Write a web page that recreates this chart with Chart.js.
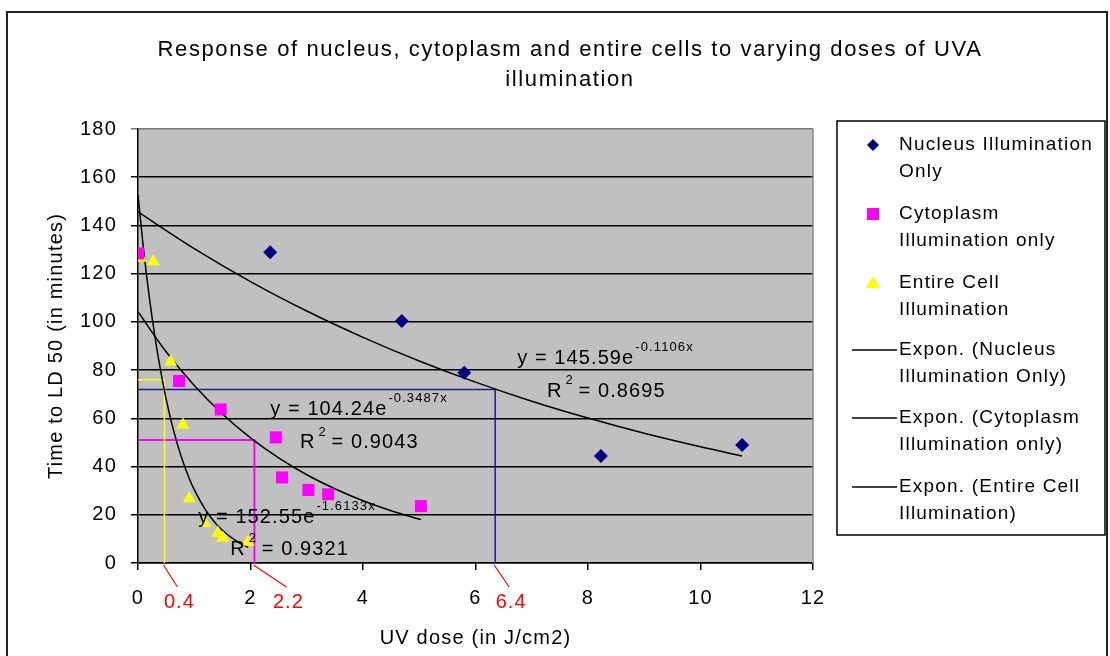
<!DOCTYPE html>
<html>
<head>
<meta charset="utf-8">
<script src="https://cdn.jsdelivr.net/npm/chart.js@4.4.1/dist/chart.umd.min.js"></script>
<style>
  html, body { margin: 0; padding: 0; background: #fff; }
  canvas { display: block; }
</style>
</head>
<body>
<canvas id="chart" width="1110" height="656"></canvas>
<script>
// measured points (x = UV dose J/cm2, y = time to LD 50 in minutes)
const nucleusX = [2.35, 4.69, 5.80, 8.23, 10.74];
const nucleusY = [128.9, 100.4, 78.9, 44.4, 48.9];
const cytoX = [0.0, 0.73, 1.47, 2.45, 2.56, 3.03, 3.38, 5.03];
const cytoY = [128.4, 75.5, 63.7, 52.1, 35.5, 30.3, 28.5, 23.6];
const cellX = [0.05, 0.27, 0.58, 0.80, 0.91, 1.19, 1.42, 1.51, 1.96];
const cellY = [126.5, 125.0, 83.5, 57.2, 26.8, 16.5, 12.4, 10.4, 8.7];

// exponential trendlines
const nucleusFitX = [0, 1, 2, 3, 4, 5, 6, 7, 8, 9, 10, 10.74];
const nucleusFitY = [145.6, 130.4, 116.7, 104.5, 93.6, 83.8, 75.0, 67.1, 60.1, 53.8, 48.2, 44.4];
const cytoFitX = [0, 0.5, 1, 1.5, 2, 2.5, 3, 3.5, 4, 4.5, 5.03];
const cytoFitY = [104.2, 87.6, 73.6, 61.8, 51.9, 43.6, 36.6, 30.8, 25.8, 21.7, 18.0];
const cellFitX = [0, 0.1, 0.2, 0.3, 0.4, 0.5, 0.6, 0.7, 0.8, 0.9, 1.0, 1.2, 1.4, 1.6, 1.8, 1.96];
const cellFitY = [152.6, 129.8, 110.5, 94.0, 80.0, 68.1, 57.9, 49.3, 42.0, 35.7, 30.4, 22.0, 15.9, 11.6, 8.4, 6.5];

// hand drawn read-off guides (dose at which LD 50 time is reached)
const guideCellX = [0, 0.47, 0.47];
const guideCellY = [76, 76, 0];
const guideCytoX = [0, 2.07, 2.07];
const guideCytoY = [51, 51, 0];
const guideNucX = [0, 6.35, 6.35];
const guideNucY = [72, 72, 0];
const guideLabels = ['0.4', '2.2', '6.4'];

const seriesNames = ['Nucleus Illumination Only', 'Cytoplasm Illumination only', 'Entire Cell Illumination'];
const fitEquations = ['y = 145.59e', 'y = 104.24e', 'y = 152.55e'];
const fitExponents = ['-0.1106x', '-0.3487x', '-1.6133x'];
const fitR2 = ['0.8695', '0.9043', '0.9321'];

const titleLines = ['Response of nucleus, cytoplasm and entire cells to varying doses of UVA', 'illumination'];

const pts = (xs, ys) => xs.map((x, i) => ({ x: x, y: ys[i] }));

const FONT = '"Liberation Sans", Arial, sans-serif';

const markerSet = (label, xs, ys, color, style, r) => ({
    label: label,
    data: pts(xs, ys),
    showLine: false,
    pointStyle: style,
    pointRadius: r,
    pointBackgroundColor: color,
    pointBorderColor: color,
    pointBorderWidth: 0,
});

const lineSet = (label, xs, ys, color, width, smooth) => ({
    label: label,
    data: pts(xs, ys),
    showLine: true,
    pointRadius: 0,
    borderColor: color,
    borderWidth: width,
    cubicInterpolationMode: smooth ? 'monotone' : 'default',
    tension: 0,
    fill: false,
});

const drawSup = (ctx, x, y, main, sup) => {
    ctx.font = '20px ' + FONT;
    ctx.textAlign = 'left';
    ctx.textBaseline = 'middle';
    ctx.fillText(main, x, y);
    const w = ctx.measureText(main).width;
    ctx.font = '13px ' + FONT;
    ctx.fillText(sup, x + w + 1, y - 11);
};

const drawR2 = (ctx, x, y, val) => {
    ctx.font = '20px ' + FONT;
    ctx.textAlign = 'left';
    ctx.textBaseline = 'middle';
    ctx.fillText('R', x, y);
    const w = ctx.measureText('R').width;
    ctx.font = '13px ' + FONT;
    ctx.fillText('2', x + w + 3, y - 11);
    ctx.font = '20px ' + FONT;
    ctx.fillText('= ' + val, x + w + 16, y);
};

const decor = {
    id: 'decor',
    beforeDraw(chart) {
        const ctx = chart.ctx;
        const a = chart.chartArea;
        ctx.save();
        ctx.fillStyle = '#fff';
        ctx.fillRect(0, 0, chart.width, chart.height);
        ctx.strokeStyle = '#222';
        ctx.lineWidth = 2;
        ctx.strokeRect(7, 12, 1100, 700);
        ctx.fillStyle = '#c0c0c0';
        ctx.fillRect(a.left, a.top, a.right - a.left, a.bottom - a.top);
        ctx.restore();
        ctx.letterSpacing = '1.2px';
    },
    beforeDatasetsDraw(chart) {
        const ctx = chart.ctx;
        const a = chart.chartArea;
        ctx.save();
        ctx.strokeStyle = '#888';
        ctx.lineWidth = 1.5;
        ctx.beginPath();
        ctx.moveTo(a.right, a.top);
        ctx.lineTo(a.right, a.bottom);
        ctx.stroke();
        ctx.restore();
    },
    afterDraw(chart) {
        const ctx = chart.ctx;
        const xs = chart.scales.x;
        const ys = chart.scales.y;
        const px = v => xs.getPixelForValue(v);
        const py = v => ys.getPixelForValue(v);
        ctx.save();
        ctx.fillStyle = '#000';

        // title
        ctx.letterSpacing = '1.6px';
        ctx.font = '22px ' + FONT;
        ctx.textAlign = 'center';
        ctx.textBaseline = 'middle';
        ctx.fillText(titleLines[0], 570, 50);
        ctx.fillText(titleLines[1], 570, 80);

        // trendline equations
        ctx.letterSpacing = '1.1px';
        drawSup(ctx, px(6.74), py(85), fitEquations[0], fitExponents[0]);
        drawR2(ctx, px(7.27), py(71), fitR2[0]);
        drawSup(ctx, px(2.35), py(63.5), fitEquations[1], fitExponents[1]);
        drawR2(ctx, px(2.88), py(49.8), fitR2[1]);
        drawSup(ctx, px(1.07), py(18.8), fitEquations[2], fitExponents[2]);
        drawR2(ctx, px(1.64), py(5.5), fitR2[2]);

        // red read-off labels under the x axis
        const base = ys.getPixelForValue(0);
        const feet = [guideCellX[1], guideCytoX[1], guideNucX[1]];
        const offs = [[13, 22], [32, 22], [14, 22]];
        ctx.strokeStyle = '#ff0000';
        ctx.fillStyle = '#ff0000';
        ctx.lineWidth = 1.2;
        ctx.font = '20px ' + FONT;
        ctx.textAlign = 'center';
        feet.forEach((f, i) => {
            const x0 = px(f);
            ctx.beginPath();
            ctx.moveTo(x0 - 1, base + 2);
            ctx.lineTo(x0 + offs[i][0], base + offs[i][1] + 2);
            ctx.stroke();
            ctx.fillText(guideLabels[i], x0 + offs[i][0] + 2, base + 39);
        });

        // legend
        const L = 837, T = 121, R = 1105, B = 535;
        ctx.strokeStyle = '#000';
        ctx.lineWidth = 1.5;
        ctx.strokeRect(L, T, R - L, B - T);
        ctx.letterSpacing = '1.2px';
        ctx.font = '19px ' + FONT;
        ctx.textAlign = 'left';
        ctx.textBaseline = 'middle';
        ctx.fillStyle = '#000';
        const rows = [
            ['Nucleus Illumination', 'Only'],
            ['Cytoplasm', 'Illumination only'],
            ['Entire Cell', 'Illumination'],
            ['Expon. (Nucleus', 'Illumination Only)'],
            ['Expon. (Cytoplasm', 'Illumination only)'],
            ['Expon. (Entire Cell', 'Illumination)'],
        ];
        const rowY = [145, 214, 283, 350, 418, 487];
        rows.forEach((r, i) => {
            ctx.fillText(r[0], 899, rowY[i]);
            ctx.fillText(r[1], 899, rowY[i] + 27);
        });
        // legend symbols
        ctx.fillStyle = '#000080';
        ctx.beginPath();
        ctx.moveTo(873, rowY[0] - 6); ctx.lineTo(879, rowY[0]);
        ctx.lineTo(873, rowY[0] + 6); ctx.lineTo(867, rowY[0]);
        ctx.closePath(); ctx.fill();
        ctx.fillStyle = '#ff00ff';
        ctx.fillRect(867, rowY[1] - 6, 12, 12);
        ctx.fillStyle = '#ffff00';
        ctx.beginPath();
        ctx.moveTo(873, rowY[2] - 7); ctx.lineTo(880, rowY[2] + 5);
        ctx.lineTo(866, rowY[2] + 5); ctx.closePath(); ctx.fill();
        ctx.strokeStyle = '#000';
        ctx.lineWidth = 1.5;
        [3, 4, 5].forEach(i => {
            ctx.beginPath();
            ctx.moveTo(852, rowY[i]);
            ctx.lineTo(897, rowY[i]);
            ctx.stroke();
        });
        ctx.restore();
    }
};

const ctx = document.getElementById('chart').getContext('2d');
new Chart(ctx, {
    type: 'scatter',
    data: {
        datasets: [
            markerSet(seriesNames[0], nucleusX, nucleusY, '#000080', 'rectRot', 7),
            markerSet(seriesNames[1], cytoX, cytoY, '#ff00ff', 'rect', 8.5),
            markerSet(seriesNames[2], cellX, cellY, '#ffff00', 'triangle', 7.5),
            lineSet('Expon. (' + seriesNames[0] + ')', nucleusFitX, nucleusFitY, '#000', 1.5, true),
            lineSet('Expon. (' + seriesNames[1] + ')', cytoFitX, cytoFitY, '#000', 1.5, true),
            lineSet('Expon. (' + seriesNames[2] + ')', cellFitX, cellFitY, '#000', 1.5, true),
            lineSet('guide entire cell', guideCellX, guideCellY, '#ffff00', 1.5, false),
            lineSet('guide cytoplasm', guideCytoX, guideCytoY, '#ff00ff', 2, false),
            lineSet('guide nucleus', guideNucX, guideNucY, '#1c1c8c', 1.5, false),
        ]
    },
    options: {
        responsive: false,
        animation: false,
        layout: { padding: { left: 40, top: 129, right: 297, bottom: 0 } },
        plugins: {
            legend: { display: false },
            tooltip: { enabled: false },
        },
        scales: {
            x: {
                type: 'linear',
                min: 0,
                max: 12,
                ticks: { stepSize: 2, color: '#000', padding: 16, font: { family: FONT, size: 20 } },
                grid: { drawOnChartArea: false, color: '#000', lineWidth: 1.5, tickLength: 7 },
                border: { color: '#000', width: 1.5 },
                title: { display: true, text: 'UV dose (in J/cm2)', color: '#000', font: { family: FONT, size: 20 }, padding: { top: 4, bottom: 6 } },
                afterFit(scale) { scale.height = 93; },
            },
            y: {
                type: 'linear',
                min: 0,
                max: 180,
                ticks: { stepSize: 20, color: '#000', padding: 14, font: { family: FONT, size: 20 } },
                grid: {
                    color: c => (c.tick && c.tick.value === 180 ? '#777' : '#000'),
                    lineWidth: 1.5,
                    tickLength: 7,
                },
                border: { color: '#000', width: 1.5 },
                title: { display: true, text: 'Time to LD 50 (in minutes)', color: '#000', font: { family: FONT, size: 20 }, padding: { top: 4, bottom: 4 } },
                afterFit(scale) { scale.width = 98; },
            }
        }
    },
    plugins: [decor]
});
</script>
</body>
</html>
